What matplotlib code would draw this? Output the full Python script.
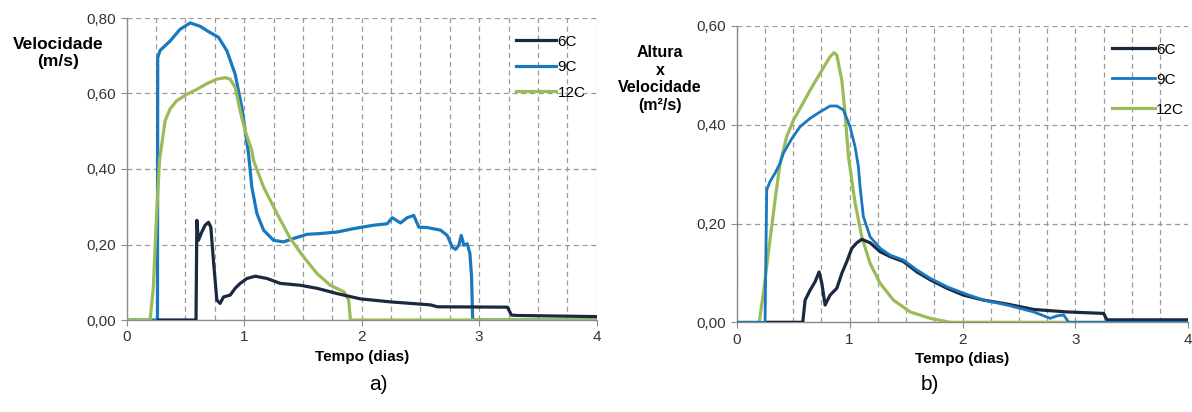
import matplotlib
matplotlib.use('Agg')
import matplotlib.pyplot as plt
from matplotlib.ticker import FuncFormatter, MultipleLocator

plt.rcParams['font.family'] = ['Liberation Sans', 'DejaVu Sans']

# ---- panel a: velocidade (m/s) ----
a6_x = [0.27, 0.59, 0.597, 0.61, 0.639, 0.667, 0.696, 0.716, 0.738, 0.767, 0.795, 0.824, 0.881,
        0.923, 0.966, 1.023, 1.094, 1.194, 1.307, 1.477, 1.62, 1.79, 1.989, 2.245, 2.586, 2.643,
        3.24, 3.274, 3.325, 4.0]
a6_y = [0.0, 0.0, 0.264, 0.211, 0.233, 0.251, 0.259, 0.246, 0.158, 0.053, 0.044, 0.061, 0.066,
        0.084, 0.097, 0.110, 0.116, 0.110, 0.097, 0.092, 0.084, 0.070, 0.056, 0.048, 0.040, 0.035,
        0.034, 0.013, 0.012, 0.009]

a9_x = [0.0, 0.262, 0.264, 0.284, 0.369, 0.454, 0.540, 0.625, 0.696, 0.781, 0.853, 0.923, 0.980,
        1.037, 1.065, 1.108, 1.165, 1.25, 1.335, 1.42, 1.535, 1.648, 1.79, 1.93, 2.10, 2.217, 2.26,
        2.33, 2.387, 2.443, 2.486, 2.557, 2.671, 2.728, 2.771, 2.799, 2.827, 2.847, 2.87, 2.898,
        2.921, 2.935, 2.944, 2.95, 4.0]
a9_y = [0.0, 0.0, 0.695, 0.714, 0.739, 0.770, 0.787, 0.778, 0.764, 0.749, 0.713, 0.651, 0.563,
        0.440, 0.352, 0.282, 0.238, 0.211, 0.207, 0.216, 0.227, 0.229, 0.233, 0.242, 0.251, 0.255,
        0.271, 0.257, 0.271, 0.277, 0.246, 0.245, 0.238, 0.224, 0.193, 0.187, 0.198, 0.224, 0.198,
        0.202, 0.176, 0.114, 0.004, 0.0, 0.0]

a12_x = [0.0, 0.199, 0.227, 0.256, 0.28, 0.327, 0.369, 0.426, 0.512, 0.597, 0.682, 0.767, 0.838,
         0.881, 0.923, 0.966, 1.008, 1.065, 1.08, 1.165, 1.279, 1.392, 1.506, 1.62, 1.733, 1.847,
         1.889, 1.904, 4.0]
a12_y = [0.0, 0.0, 0.088, 0.29, 0.425, 0.528, 0.559, 0.581, 0.598, 0.611, 0.626, 0.638, 0.642,
         0.638, 0.616, 0.554, 0.501, 0.449, 0.422, 0.352, 0.282, 0.216, 0.167, 0.123, 0.092, 0.075,
         0.053, 0.0, 0.0]

# ---- panel b: altura x velocidade (m2/s) ----
b6_x = [0.27, 0.585, 0.606, 0.65, 0.694, 0.73, 0.754, 0.783, 0.827, 0.887, 0.931, 0.975, 1.02,
        1.064, 1.108, 1.182, 1.27, 1.359, 1.477, 1.596, 1.714, 1.862, 2.009, 2.186, 2.394, 2.63,
        2.926, 3.25, 3.28, 4.0]
b6_y = [0.0, 0.0, 0.045, 0.065, 0.082, 0.102, 0.079, 0.035, 0.055, 0.069, 0.099, 0.123, 0.150,
        0.161, 0.168, 0.161, 0.143, 0.133, 0.123, 0.102, 0.086, 0.069, 0.055, 0.045, 0.037, 0.026,
        0.021, 0.018, 0.005, 0.005]

b9_x = [0.0, 0.251, 0.266, 0.295, 0.34, 0.384, 0.413, 0.488, 0.561, 0.65, 0.738, 0.827, 0.887,
        0.945, 1.004, 1.049, 1.078, 1.093, 1.122, 1.182, 1.27, 1.359, 1.477, 1.596, 1.714, 1.862,
        2.009, 2.186, 2.394, 2.63, 2.778, 2.837, 2.896, 2.94, 4.0]
b9_y = [0.0, 0.0, 0.268, 0.285, 0.302, 0.322, 0.342, 0.372, 0.396, 0.413, 0.426, 0.438, 0.438,
        0.430, 0.396, 0.355, 0.315, 0.274, 0.214, 0.173, 0.150, 0.136, 0.126, 0.106, 0.089, 0.072,
        0.059, 0.045, 0.035, 0.021, 0.008, 0.013, 0.015, 0.0, 0.0]

b12_x = [0.0, 0.2, 0.236, 0.28, 0.34, 0.384, 0.443, 0.502, 0.561, 0.65, 0.738, 0.827, 0.862,
         0.887, 0.931, 0.96, 0.99, 1.049, 1.108, 1.182, 1.27, 1.388, 1.537, 1.714, 1.891, 4.0]
b12_y = [0.0, 0.0, 0.059, 0.140, 0.248, 0.322, 0.376, 0.409, 0.433, 0.470, 0.504, 0.538, 0.546,
         0.541, 0.490, 0.423, 0.335, 0.241, 0.173, 0.119, 0.079, 0.045, 0.021, 0.008, 0.0, 0.0]

labels = ['6C', '9C', '12C']
c6, c9, c12 = '#1a2940', '#1a78be', '#9bbb59'

W, H = 1192, 412
fig = plt.figure(figsize=(W / 100, H / 100), dpi=100)

comma = FuncFormatter(lambda v, p: f'{v:.2f}'.replace('.', ','))


def style(ax, ymax):
    ax.set_xlim(0, 4)
    ax.set_ylim(0, ymax)
    ax.xaxis.set_major_locator(MultipleLocator(1))
    ax.xaxis.set_minor_locator(MultipleLocator(0.25))
    ax.yaxis.set_major_locator(MultipleLocator(0.2))
    ax.yaxis.set_major_formatter(comma)
    ax.grid(which='both', axis='x', color='#999999', linestyle=(0, (4, 3)), linewidth=0.9)
    ax.grid(which='major', axis='y', color='#999999', linestyle=(0, (4, 3)), linewidth=0.9)
    for s in ['top', 'right']:
        ax.spines[s].set_visible(False)
    for s in ['left', 'bottom']:
        ax.spines[s].set_color('#8c8c8c')
        ax.spines[s].set_linewidth(1.0)
    ax.tick_params(which='major', length=4, color='#8c8c8c', labelsize=11, labelcolor='#333333')
    ax.tick_params(which='minor', length=0)
    ax.set_axisbelow(True)


# panel a
ax1 = fig.add_axes([126.7 / W, 1 - 320 / H, 470 / W, 302 / H])
ax1.plot(a9_x, a9_y, color=c9, lw=2.3, label=labels[1], zorder=3)
ax1.plot(a12_x, a12_y, color=c12, lw=2.3, label=labels[2], zorder=4)
ax1.plot(a6_x, a6_y, color=c6, lw=2.3, label=labels[0], zorder=5)
style(ax1, 0.8)
h, l = ax1.get_legend_handles_labels()
order = [2, 0, 1]
ax1.legend([h[i] for i in order], [l[i] for i in order], loc='upper left',
           bbox_to_anchor=(0.80, 0.99), frameon=False, fontsize=11, handlelength=2.6,
           handletextpad=0.1, labelspacing=0.75)
ax1.set_xlabel('Tempo (dias)', fontsize=11, fontweight='bold', labelpad=4)
fig.text(58 / W, 1 - 53 / H, 'Velocidade\n(m/s)', ha='center', va='center', fontsize=12.5,
         fontweight='bold', linespacing=1.2)
fig.text(378 / W, 1 - 385 / H, 'a)', ha='center', va='center', fontsize=15)

# panel b
ax2 = fig.add_axes([736.7 / W, 1 - 322.3 / H, 451.6 / W, 296.3 / H])
ax2.plot(b12_x, b12_y, color=c12, lw=2.3, label=labels[2], zorder=3)
ax2.plot(b6_x, b6_y, color=c6, lw=2.3, label=labels[0], zorder=4)
ax2.plot(b9_x, b9_y, color=c9, lw=2.0, label=labels[1], zorder=5)
style(ax2, 0.6)
h, l = ax2.get_legend_handles_labels()
order = [1, 2, 0]
ax2.legend([h[i] for i in order], [l[i] for i in order], loc='upper left',
           bbox_to_anchor=(0.80, 0.99), frameon=False, fontsize=11, handlelength=2.8,
           handletextpad=0.1, labelspacing=1.05)
ax2.set_xlabel('Tempo (dias)', fontsize=11, fontweight='bold', labelpad=4)
fig.text(660 / W, 1 - 79 / H, 'Altura\nx\nVelocidade\n(m²/s)', ha='center', va='center',
         fontsize=11.5, fontweight='bold', linespacing=1.2)
fig.text(930 / W, 1 - 385 / H, 'b)', ha='center', va='center', fontsize=15)

fig.savefig('out.png', dpi=100)
